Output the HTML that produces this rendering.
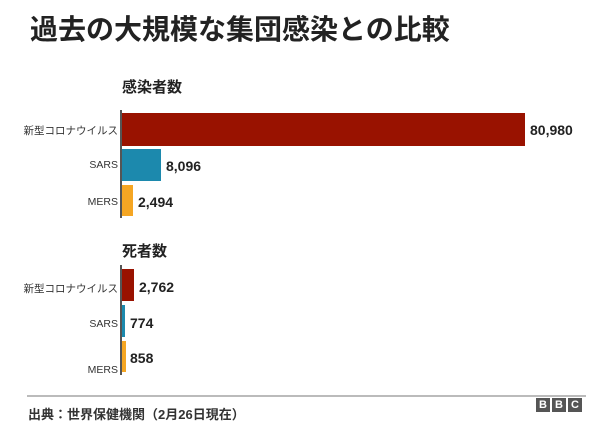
<!DOCTYPE html>
<html><head><meta charset="utf-8"><style>
body{margin:0;width:609px;height:440px;background:#fff;position:relative;overflow:hidden;font-family:"Liberation Sans","Noto Sans CJK JP",sans-serif;color:#222}
.a{position:absolute;white-space:nowrap}
.t{left:30px;top:8px;font-size:28px;font-weight:bold;color:#222}
.h{font-size:15px;font-weight:bold}
.l{font-size:10.5px;text-align:right;right:491px;color:#333}
.v{font-size:14px;font-weight:bold}
.b{position:absolute}
.ax{position:absolute;width:2px;background:#555;left:120px}
.logo{position:absolute;top:398px;width:14px;height:14px;background:#555;color:#fff;font-size:11px;font-weight:bold;text-align:center;line-height:14px}
</style></head><body>
<div class="a t">過去の大規模な集団感染との比較</div>
<div class="a h" style="left:122px;top:76px">感染者数</div>
<div class="b" style="left:121px;top:113px;width:404px;height:33px;background:#991200"></div>
<div class="b" style="left:121px;top:149px;width:40px;height:32px;background:#1c89ad"></div>
<div class="b" style="left:121px;top:185px;width:12px;height:31px;background:#f5a623"></div>
<div class="ax" style="top:110px;height:108px"></div>
<div class="a l" style="top:123px">新型コロナウイルス</div>
<div class="a l" style="top:159px">SARS</div>
<div class="a l" style="top:196px">MERS</div>
<div class="a v" style="left:530px;top:122px">80,980</div>
<div class="a v" style="left:166px;top:158px">8,096</div>
<div class="a v" style="left:138px;top:194px">2,494</div>
<div class="a h" style="left:122px;top:240px">死者数</div>
<div class="b" style="left:121px;top:269px;width:13px;height:32px;background:#991200"></div>
<div class="b" style="left:121px;top:305px;width:4px;height:32px;background:#1c89ad"></div>
<div class="b" style="left:121px;top:341px;width:5px;height:31px;background:#f5a623"></div>
<div class="ax" style="top:265px;height:110px"></div>
<div class="a l" style="top:281px">新型コロナウイルス</div>
<div class="a l" style="top:318px">SARS</div>
<div class="a l" style="top:364px">MERS</div>
<div class="a v" style="left:139px;top:279px">2,762</div>
<div class="a v" style="left:130px;top:315px">774</div>
<div class="a v" style="left:130px;top:350px">858</div>
<div class="b" style="left:27px;top:395px;width:559px;height:2px;background:#bbb"></div>
<div class="a" style="left:28px;top:404px;font-size:13px;font-weight:bold;color:#333">出典：世界保健機関（2月26日現在）</div>
<div class="logo" style="left:536px">B</div>
<div class="logo" style="left:552px">B</div>
<div class="logo" style="left:568px">C</div>
</body></html>
